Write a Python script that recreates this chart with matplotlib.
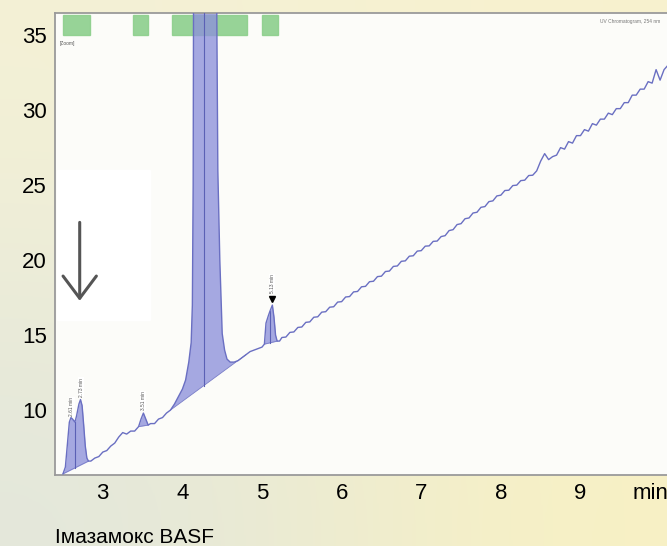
import numpy as np
import matplotlib.pyplot as plt
import matplotlib.colors as mcolors
from matplotlib.patches import Rectangle, FancyArrowPatch

plt.rcParams['font.family'] = ['Liberation Sans', 'DejaVu Sans']

# chromatogram trace (time in min, signal)
times = [2.50, 2.53, 2.56, 2.58, 2.60, 2.62, 2.65, 2.67, 2.70, 2.72, 2.74, 2.76, 2.78, 2.80, 2.82,
         2.85, 2.90, 2.95, 3.00, 3.05, 3.10, 3.15, 3.20, 3.25, 3.30, 3.35, 3.40, 3.45, 3.48,
         3.51, 3.54, 3.57, 3.60, 3.65, 3.70, 3.75, 3.80, 3.85, 3.90, 3.95, 4.00, 4.04, 4.08,
         4.11, 4.125, 4.135, 4.14, 4.20, 4.28, 4.38, 4.43, 4.445, 4.47, 4.50, 4.53, 4.56, 4.60,
         4.65, 4.70, 4.75, 4.80, 4.85, 4.90, 4.95, 5.00, 5.03, 5.05, 5.08, 5.10, 5.13, 5.15,
         5.17, 5.19, 5.22,
         5.25, 5.30, 5.35, 5.40, 5.45, 5.50, 5.55, 5.60, 5.65, 5.70, 5.75, 5.80, 5.85, 5.90,
         5.95, 6.00, 6.05, 6.10, 6.15, 6.20, 6.25, 6.30, 6.35, 6.40, 6.45, 6.50, 6.55, 6.60,
         6.65, 6.70, 6.75, 6.80, 6.85, 6.90, 6.95, 7.00, 7.05, 7.10, 7.15, 7.20, 7.25, 7.30,
         7.35, 7.40, 7.45, 7.50, 7.55, 7.60, 7.65, 7.70, 7.75, 7.80, 7.85, 7.90, 7.95, 8.00,
         8.05, 8.10, 8.15, 8.20, 8.25, 8.30, 8.35, 8.40, 8.45, 8.50, 8.55, 8.60, 8.65, 8.70,
         8.75, 8.80, 8.85, 8.90, 8.95, 9.00, 9.05, 9.10, 9.15, 9.20, 9.25, 9.30, 9.35, 9.40,
         9.45, 9.50, 9.55, 9.60, 9.65, 9.70, 9.75, 9.80, 9.85, 9.90, 9.95, 10.00, 10.05, 10.10]
signal = [5.75, 6.2, 8.0, 9.2, 9.5, 9.4, 9.2, 9.6, 10.4, 10.7, 10.3, 9.0, 7.6, 6.8, 6.6,
          6.6, 6.8, 6.9, 7.2, 7.3, 7.6, 7.8, 8.2, 8.5, 8.4, 8.6, 8.6, 8.9, 9.4,
          9.8, 9.4, 9.0, 9.1, 9.1, 9.4, 9.5, 9.8, 10.0, 10.4, 10.9, 11.4, 12.0, 13.2,
          14.5, 17.0, 25.0, 38.0, 60.0, 70.0, 60.0, 38.0, 26.0, 20.0, 15.1, 14.0, 13.4, 13.2,
          13.2, 13.3, 13.5, 13.7, 13.9, 14.0, 14.1, 14.2, 14.4, 15.8, 16.3, 16.6, 17.0, 16.2,
          15.0, 14.6, 14.6,
          14.84, 14.87, 15.18, 15.21, 15.51, 15.54, 15.85, 15.88, 16.19, 16.22, 16.53, 16.56, 16.86, 16.89,
          17.20, 17.23, 17.54, 17.57, 17.88, 17.91, 18.22, 18.25, 18.56, 18.59, 18.90, 18.93, 19.24, 19.27,
          19.58, 19.61, 19.92, 19.95, 20.26, 20.29, 20.60, 20.63, 20.93, 20.95, 21.25, 21.27, 21.57, 21.63,
          21.97, 22.03, 22.37, 22.43, 22.76, 22.81, 23.14, 23.19, 23.52, 23.57, 23.90, 23.95, 24.28, 24.33,
          24.64, 24.66, 24.97, 25.00, 25.30, 25.33, 25.64, 25.66, 25.95, 26.6, 27.1, 26.7, 26.9, 27.0,
          27.5, 27.4, 27.9, 27.8, 28.3, 28.3, 28.7, 28.6, 29.1, 29.0, 29.4, 29.4, 29.8, 29.7,
          30.1, 30.1, 30.5, 30.5, 31.0, 31.0, 31.4, 31.4, 31.9, 31.8, 32.7, 32.0, 32.7, 33.0]

peak_windows = [(2.50, 2.82), (3.45, 3.57), (3.85, 4.80), (5.03, 5.19)]
drop_lines = [2.65, 4.27, 5.10]
peak_labels = [(2.61, 9.6, '2.61 min'), (2.73, 10.9, '2.73 min'), (3.51, 10.0, '3.51 min')]
marked_peak = (5.13, 17.4, '5.13 min')
fraction_boxes = [(2.50, 2.84), (3.38, 3.57), (3.87, 4.81), (5.00, 5.20)]
x_ticks = [3, 4, 5, 6, 7, 8, 9]
y_ticks = [10, 15, 20, 25, 30, 35]

t = np.array(times)
s = np.array(signal)

fig = plt.figure(figsize=(6.67, 5.46), dpi=100)

# pale sunflower-like backdrop
bg = fig.add_axes([0, 0, 1, 1], zorder=-1)
corners = np.array([[mcolors.to_rgb('#f4f1d6'), mcolors.to_rgb('#f8f2cf')],
                    [mcolors.to_rgb('#e3e7dc'), mcolors.to_rgb('#f8f1c4')]])
bg.imshow(corners, extent=[0, 1, 0, 1], aspect='auto', interpolation='bicubic')
bg.axis('off')

ax = fig.add_axes([0.0825, 0.130, 0.931, 0.846])
ax.set_facecolor('#fcfcf9')
ax.set_xlim(2.40, 10.20)
ax.set_ylim(5.67, 36.47)

ax.add_patch(Rectangle((2.43, 16.0), 1.16, 10.0, color='white', zorder=0))

line_col = '#6a6fc2'
fill_col = '#8d91db'

for x0, x1 in fraction_boxes:
    ax.add_patch(Rectangle((x0, 35.0), x1 - x0, 1.35, color='#8ccf8c', alpha=0.9, zorder=1))

for x0, x1 in peak_windows:
    m = (t >= x0) & (t <= x1)
    base = np.interp(t[m], [x0, x1], [np.interp(x0, t, s), np.interp(x1, t, s)])
    ax.fill_between(t[m], base, s[m], color=fill_col, alpha=0.78, lw=0, zorder=2)
    ax.plot([x0, x1], [base[0], base[-1]], color='#7a7ec8', lw=0.6, zorder=3)

for xd in drop_lines:
    for x0, x1 in peak_windows:
        if x0 <= xd <= x1:
            yb = np.interp(xd, [x0, x1], [np.interp(x0, t, s), np.interp(x1, t, s)])
    ax.plot([xd, xd], [yb, np.interp(xd, t, s)], color='#5b60b5', lw=0.8, zorder=3)

ax.plot(t, s, color=line_col, lw=1.0, zorder=4)

for xl, yl, lab in peak_labels:
    ax.text(xl, yl, lab, rotation=90, fontsize=3.5, color='#555555', ha='center', va='bottom',
            bbox=dict(fc='white', ec='none', pad=0.3), zorder=5)
ax.plot(marked_peak[0], marked_peak[1], marker='v', color='black', ms=4, zorder=5)
ax.text(marked_peak[0], marked_peak[1] + 0.4, marked_peak[2], rotation=90, fontsize=3.5,
        color='#555555', ha='center', va='bottom', bbox=dict(fc='white', ec='none', pad=0.3), zorder=5)

ax.text(2.46, 34.6, '[Zoom]', fontsize=3.5, color='#555555', va='top')
ax.text(9.25, 35.9, 'UV Chromatogram, 254 nm', fontsize=3.5, color='#777777', va='center')

arrow = FancyArrowPatch((2.71, 22.7), (2.71, 17.1), arrowstyle='->,head_length=0.8,head_width=0.6',
                        mutation_scale=20, color='#555555', lw=2.2, zorder=6)
ax.add_patch(arrow)

ax.set_xticks(x_ticks)
ax.set_yticks(y_ticks)
ax.tick_params(length=0, labelsize=16, pad=6)
for sp in ax.spines.values():
    sp.set_color('#9a9a9a')
    sp.set_linewidth(1.3)

ax.annotate('min', xy=(9.88, 0), xycoords=('data', 'axes fraction'), xytext=(0, -6),
            textcoords='offset points', fontsize=16, ha='center', va='top')
fig.text(0.0825, 0.006, 'Імазамокс BASF', fontsize=15, ha='left', va='baseline')

fig.savefig('out.png', dpi=100)
